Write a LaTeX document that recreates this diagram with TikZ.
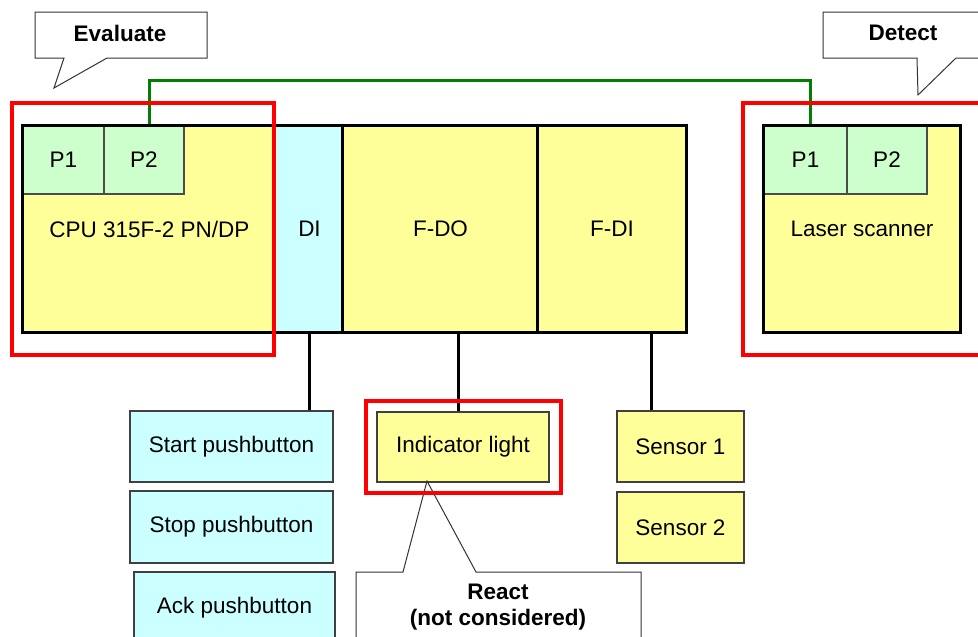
\documentclass[tikz,border=0pt]{standalone}
\usepackage{fontspec}
\setmainfont{Liberation Sans}
\usetikzlibrary{calc}
\definecolor{ylw}{HTML}{FFFF99}
\definecolor{cyn}{HTML}{CCFFFF}
\definecolor{lgrn}{HTML}{CCFFCC}
\definecolor{wirec}{HTML}{008000}
\begin{document}
\begin{tikzpicture}[x=1pt,y=-1pt,
  every node/.style={font=\fontsize{22.5}{26}\selectfont, inner sep=0pt},
  module/.style={fill=#1, draw=none},
  port/.style={fill=lgrn, draw=black!70, line width=1.2pt},
  device/.style={fill=#1, draw=black!75, line width=1.2pt},
  rackline/.style={draw=black, line width=3.2pt},
  redbox/.style={draw=red, line width=3.6pt, fill=none},
  wire/.style={draw=wirec, line width=3pt},
  conn/.style={draw=black, line width=3pt},
  callout/.style={draw=black!80, line width=1pt, fill=white},
  ctext/.style={font=\fontsize{22.5}{26}\selectfont\bfseries, align=center}
]
\useasboundingbox (0,0) rectangle (978,637);
\clip (0,0) rectangle (978,637);

% modules of the rack
\node[module=ylw, minimum width=253, minimum height=206] (cpu) at (149.5,229) {CPU 315F-2 PN/DP};
\node[module=cyn, minimum width=67, minimum height=206] (di) at (309.5,229) {DI};
\node[module=ylw, minimum width=195, minimum height=206] (fdo) at (440.5,229) {F-DO};
\node[module=ylw, minimum width=148, minimum height=206] (fdi) at (612,229) {F-DI};
\node[module=ylw, minimum width=196, minimum height=206] (laser) at (862,229) {Laser scanner};

% ports
\node[port, minimum width=81, minimum height=68] (p1) at (63.5,160) {P1};
\node[port, minimum width=80, minimum height=68] (p2) at (144,160) {P2};
\node[port, minimum width=83, minimum height=68] (lp1) at (805.5,160) {P1};
\node[port, minimum width=80, minimum height=68] (lp2) at (887,160) {P2};

% green network line
\draw[wire] ($(p2.north)+(5,0)$) -- ++(0,-45) -| ($(lp1.north)+(5,0)$);

% rack outlines
\draw[rackline] (cpu.north west) rectangle (fdi.south east);
\draw[rackline] (fdo.north west) -- (fdo.south west);
\draw[rackline] (fdi.north west) -- (fdi.south west);
\draw[rackline] (laser.north west) rectangle (laser.south east);

% devices
\node[device=cyn, minimum width=203, minimum height=71] (start) at (231.5,446.5) {Start pushbutton};
\node[device=cyn, minimum width=203, minimum height=72] (stop) at (231.5,527) {Stop pushbutton};
\node[device=cyn, minimum width=201, minimum height=72] (ack) at (234.5,608) {Ack pushbutton};
\node[device=ylw, minimum width=172, minimum height=70] (ind) at (463,447) {Indicator light};
\node[device=ylw, minimum width=127, minimum height=71] (s1) at (680.5,446.5) {Sensor 1};
\node[device=ylw, minimum width=127, minimum height=71] (s2) at (680.5,527.5) {Sensor 2};

% connectors
\coordinate (c1) at (309,332);
\coordinate (c2) at (458,332);
\coordinate (c3) at (651,332);
\draw[conn] (c1) -- (c1 |- start.north);
\draw[conn] (c2) -- (c2 |- ind.north);
\draw[conn] (c3) -- (c3 |- s1.north);

% callouts
\draw[callout] (35,12) -- (207,12) -- (207,58) -- (107,58) -- (54,88) -- (64,58) -- (35,58) -- cycle;
\node[ctext] (evaluate) at (120,33) {Evaluate};
\draw[callout] (823,12) -- (990,12) -- (990,58) -- (956,58) -- (918,95) -- (917,58) -- (823,58) -- cycle;
\node[ctext] (detect) at (903,33) {Detect};
\draw[callout] (356,572) -- (403,572) -- (427,481) -- (476,572) -- (641,572) -- (641,650) -- (356,650) -- cycle;
\node[ctext] (react) at (498,607) {React\\(not considered)};

% red highlight boxes
\node[redbox, minimum width=262, minimum height=252] (evalbox) at (143,229) {};
\node[redbox, minimum width=260, minimum height=252] (detbox) at (873,229) {};
\node[redbox, minimum width=195, minimum height=92] (reactbox) at (463.5,447) {};
\end{tikzpicture}
\end{document}
